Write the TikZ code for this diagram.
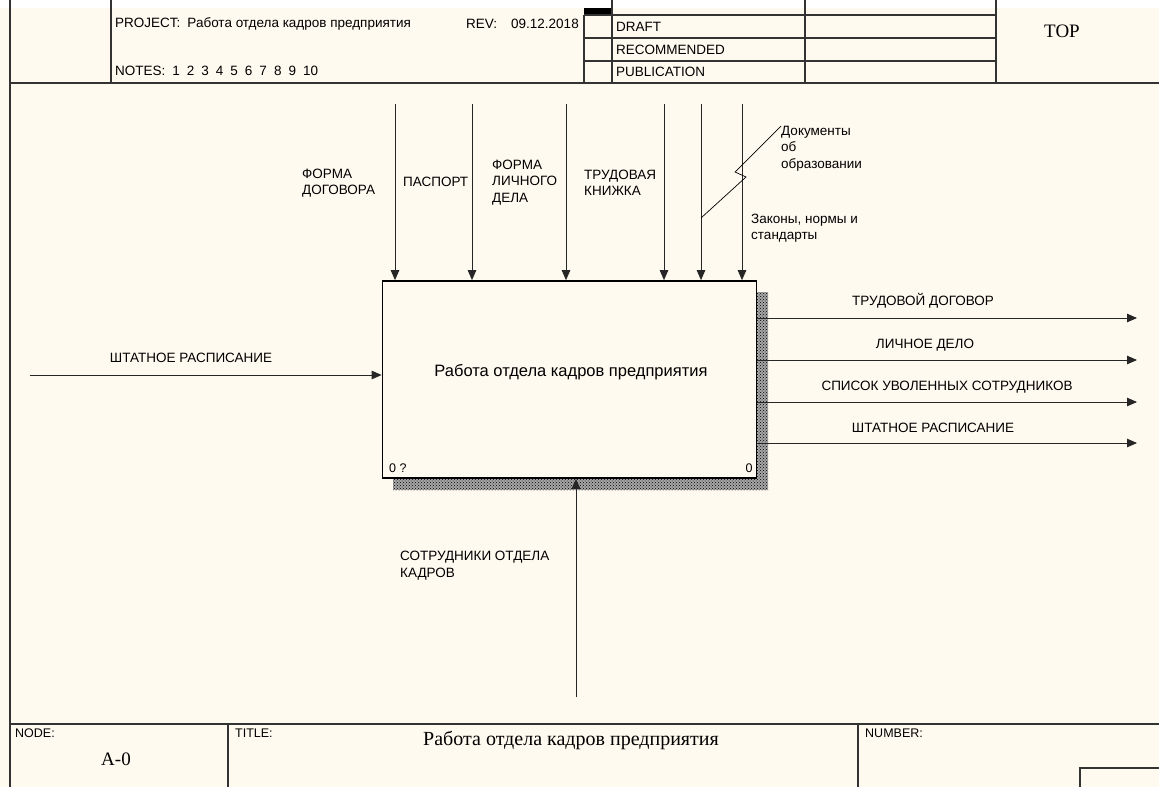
\documentclass[tikz,border=0pt]{standalone}
\usepackage{fontspec}
\setmainfont{Liberation Sans}
\newfontfamily\sheetserif{Liberation Serif}
\usetikzlibrary{arrows.meta,patterns}
\definecolor{sheet}{RGB}{255,250,240}
\newcommand\lblfont{\fontsize{13.5}{16.5}\selectfont}
\newcommand\smallfont{\fontsize{12.5}{15}\selectfont}

\begin{document}
\begin{tikzpicture}[x=1pt,y=-1pt]
   \tikzstyle{every node}=[inner sep=0pt,font=\lblfont]
   \tikzstyle{frame}=[line width=1.2pt,black!80]
   \tikzstyle{arc}=[line width=0.9pt,black!85,-{Triangle[length=10pt,width=8.5pt]}]
   \tikzstyle{lbl}=[align=left,anchor=west]
   \useasboundingbox (0,0) rectangle (1159,787);
   \fill [white] (0,0) rectangle (1159,787);
   \fill [sheet] (0,8) rectangle (1159,787);

   % header
   \draw [frame] (10,0) -- (10,787);
   \draw [frame] (10,83) -- (1159,83);
   \draw [frame] (111,0) -- (111,83);
   \fill [black] (584,8) rectangle (612,15);
   \draw [frame] (584,15) -- (584,83);
   \draw [frame] (612,0) -- (612,83);
   \draw [frame] (805,0) -- (805,83);
   \draw [frame] (996,0) -- (996,83);
   \draw [frame] (584,15) -- (996,15);
   \draw [frame] (584,38) -- (996,38);
   \draw [frame] (584,61) -- (996,61);

   \node (proj) [anchor=west] at (115,24) {PROJECT:\hspace{7pt}Работа отдела кадров предприятия};
   \node (rev) [anchor=west] at (466,24) {REV:};
   \node (date) [anchor=west] at (511,24) {09.12.2018};
   \node (notes) [anchor=west] at (115,71) {NOTES:\hspace{7pt}1\hspace{7pt}2\hspace{7pt}3\hspace{7pt}4\hspace{7pt}5\hspace{7pt}6\hspace{7pt}7\hspace{7pt}8\hspace{7pt}9\hspace{7pt}10};
   \node (draft) [anchor=west] at (616,26.5) {DRAFT};
   \node (recom) [anchor=west] at (616,49.5) {RECOMMENDED};
   \node (publ) [anchor=west] at (616,72) {PUBLICATION};
   \node (top) [font=\sheetserif\fontsize{19}{22}\selectfont] at (1062,31) {TOP};

   % footer
   \draw [frame] (10,724) -- (1159,724);
   \draw [frame] (228,724) -- (228,787);
   \draw [frame] (858,724) -- (858,787);
   \draw [frame] (1159,768) -- (1080,768) -- (1080,787);
   \node (nodehd) [anchor=west,font=\smallfont] at (15,733) {NODE:};
   \node (nodeno) [font=\sheetserif\fontsize{19}{22}\selectfont] at (116,759) {A-0};
   \node (titlehd) [anchor=west,font=\smallfont] at (235,733) {TITLE:};
   \node (title) [font=\sheetserif\fontsize{20}{22}\selectfont] at (571,740) {Работа отдела кадров предприятия};
   \node (numhd) [anchor=west,font=\smallfont] at (865,733) {NUMBER:};

   % activity box with shadow
   \fill [black!35] (393,292) rectangle (768,490);
   \fill [pattern=crosshatch dots,pattern color=black] (393,292) rectangle (768,490);
   \node (act) [draw,line width=1.7pt,fill=sheet,minimum width=374pt,minimum height=197pt] at (569.5,379.5) {};
   \node (actname) [font=\fontsize{16.5}{20}\selectfont] at (571,372) {Работа отдела кадров предприятия};
   \node (numL) [anchor=west,font=\smallfont] at (389,468) {0 ?};
   \node (numR) [font=\smallfont] at (749,468) {0};

   % controls
   \coordinate (cA) at (395,104);
   \coordinate (cB) at (472,104);
   \coordinate (cC) at (566,104);
   \coordinate (cD) at (664,104);
   \coordinate (cE) at (701,104);
   \coordinate (cF) at (742,104);
   \foreach \c in {cA,cB,cC,cD,cE,cF}
      \draw [arc] (\c) -- (\c |- act.north);

   \node (lA) [lbl] at (302,183) {ФОРМА\\ДОГОВОРА};
   \node (lB) [lbl] at (403,182) {ПАСПОРТ};
   \node (lC) [lbl] at (492,182.5) {ФОРМА\\ЛИЧНОГО\\ДЕЛА};
   \node (lD) [lbl] at (584,183) {ТРУДОВАЯ\\КНИЖКА};
   \node (docs) [align=left,anchor=north west] at (781,126) {Документы\\об\\образовании};
   \node (laws) [lbl] at (751,228) {Законы, нормы и\\стандарты};

   \coordinate (kinkA) at (746,177);
   \coordinate (kinkB) at (735,172);
   \draw [line width=0.7pt] (cE |- 0,218) -- (kinkA) -- (kinkB) -- (docs.north west);

   % input
   \coordinate (inA) at (30,375);
   \draw [arc] (inA) -- (inA -| act.west);
   \node (linA) at (191,358) {ШТАТНОЕ РАСПИСАНИЕ};

   % outputs
   \coordinate (oA) at (1137,318);
   \coordinate (oB) at (1137,360);
   \coordinate (oC) at (1137,402);
   \coordinate (oD) at (1137,443);
   \foreach \o in {oA,oB,oC,oD}
      \draw [arc] (\o -| act.east) -- (\o);
   \node (loA) at (923,301) {ТРУДОВОЙ ДОГОВОР};
   \node (loB) at (925,345) {ЛИЧНОЕ ДЕЛО};
   \node (loC) at (947,387) {СПИСОК УВОЛЕННЫХ СОТРУДНИКОВ};
   \node (loD) at (933,428) {ШТАТНОЕ РАСПИСАНИЕ};

   % mechanism
   \coordinate (mA) at (576,697);
   \draw [arc] (mA) -- (mA |- act.south);
   \node (lmA) [lbl] at (400,565.5) {СОТРУДНИКИ ОТДЕЛА\\КАДРОВ};

\end{tikzpicture}
\end{document}
